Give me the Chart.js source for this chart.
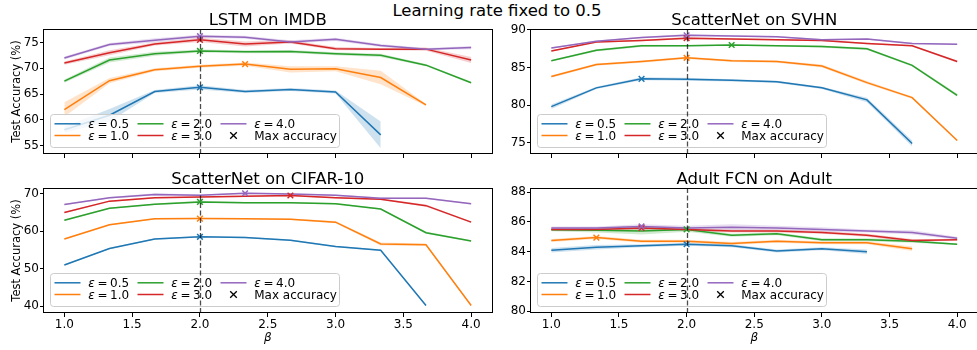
<!DOCTYPE html>
<html>
<head>
<meta charset="utf-8">
<script src="https://cdn.jsdelivr.net/npm/chart.js@4.4.1/dist/chart.umd.min.js"></script>
<style>
  html, body { margin: 0; padding: 0; background: #fff; }
  body { width: 977px; height: 350px; overflow: hidden; position: relative; font-family: "DejaVu Sans", sans-serif; }
  canvas { position: absolute; }
  #suptitle { position: absolute; left: 0; top: 2.7px; width: 994px; text-align: center; font-size: 16.5px; line-height: 1; color: #000; }
</style>
</head>
<body>
<div id="suptitle">Learning rate fixed to 0.5</div>
<canvas id="chart-imdb"></canvas>
<canvas id="chart-svhn"></canvas>
<canvas id="chart-cifar"></canvas>
<canvas id="chart-adult"></canvas>
<script>
const betas = [1.0, 1.333, 1.667, 2.0, 2.333, 2.667, 3.0, 3.333, 3.667, 4.0];
const betaTicks = [1.0, 1.5, 2.0, 2.5, 3.0, 3.5, 4.0];
const betaRef = 2.0;
const epsilons = ["0.5", "1.0", "2.0", "3.0", "4.0"];
const colors = ["#1f77b4", "#ff7f0e", "#2ca02c", "#d62728", "#9467bd"];

// LSTM on IMDB, mean accuracy per epsilon (rows) and beta (columns)
const imdbAcc = [
  [58.1, 60.9, 65.5, 66.3, 65.5, 65.9, 65.4, 57.1, null, null],
  [62.0, 67.6, 69.7, 70.4, 70.8, 69.8, 69.9, 68.2, 62.9, null],
  [67.5, 71.6, 72.8, 73.35, 73.2, 73.25, 72.8, 72.5, 70.6, 67.2],
  [71.0, 73.0, 74.7, 75.5, 74.7, 75.1, 73.8, 73.7, 73.7, 71.6],
  [72.0, 74.6, 75.4, 76.2, 76.0, 75.1, 75.6, 74.4, 73.7, 74.0]
];
const imdbStd = [
  [0.6, 1.2, 0.3, 0.4, 0.3, 0.3, 0.3, 2.6, null, null],
  [1.4, 0.5, 0.3, 0.3, 0.3, 0.6, 0.5, 1.3, 0.2, null],
  [0.3, 0.5, 0.4, 0.3, 0.3, 0.3, 0.3, 0.3, 0.2, 0.2],
  [0.3, 0.5, 0.3, 0.4, 0.5, 0.3, 0.3, 0.2, 0.3, 0.6],
  [0.3, 0.3, 0.4, 0.3, 0.3, 0.3, 0.3, 0.3, 0.2, 0.3]
];
const imdbTicks = [55, 60, 65, 70, 75];

// ScatterNet on SVHN
const svhnAcc = [
  [79.8, 82.3, 83.5, 83.45, 83.3, 83.1, 82.3, 80.7, 74.9, null],
  [83.8, 85.4, 85.8, 86.3, 85.9, 85.8, 85.2, 83.0, 81.0, 75.3],
  [85.9, 87.3, 87.9, 87.9, 88.0, 87.9, 87.8, 87.5, 85.3, 81.3],
  [87.2, 88.4, 88.6, 88.9, 88.8, 88.7, 88.6, 88.2, 87.9, 85.8],
  [87.6, 88.5, 89.0, 89.3, 89.2, 89.1, 88.7, 88.8, 88.2, 88.1]
];
const svhnStd = [
  [0.3, 0.15, 0.2, 0.2, 0.15, 0.15, 0.15, 0.3, 0.4, null],
  [0.15, 0.15, 0.15, 0.15, 0.15, 0.15, 0.2, 0.2, 0.15, 0.1],
  [0.1, 0.15, 0.15, 0.1, 0.1, 0.1, 0.15, 0.15, 0.15, 0.2],
  [0.1, 0.1, 0.1, 0.15, 0.1, 0.1, 0.1, 0.1, 0.1, 0.15],
  [0.1, 0.1, 0.1, 0.15, 0.1, 0.1, 0.1, 0.1, 0.1, 0.1]
];
const svhnTicks = [75, 80, 85, 90];

// ScatterNet on CIFAR-10
const cifarAcc = [
  [51.0, 55.4, 57.9, 58.5, 58.3, 57.6, 55.9, 54.9, 40.2, null],
  [57.9, 61.7, 63.3, 63.35, 63.3, 63.2, 62.4, 56.6, 56.4, 40.2],
  [62.9, 66.1, 67.2, 67.8, 67.6, 67.6, 67.3, 65.9, 59.6, 57.4],
  [65.0, 68.0, 68.9, 69.1, 69.3, 69.5, 68.9, 68.5, 66.8, 62.4],
  [67.1, 68.9, 69.8, 69.6, 70.1, 69.9, 69.6, 68.8, 68.8, 67.3]
];
const cifarStd = [
  [0.2, 0.2, 0.2, 0.2, 0.2, 0.2, 0.2, 0.2, 0.2, null],
  [0.2, 0.2, 0.2, 0.2, 0.2, 0.2, 0.3, 0.4, 0.3, 0.2],
  [0.2, 0.2, 0.2, 0.3, 0.2, 0.2, 0.2, 0.2, 0.3, 0.2],
  [0.2, 0.2, 0.2, 0.2, 0.2, 0.2, 0.2, 0.2, 0.3, 0.2],
  [0.2, 0.2, 0.3, 0.2, 0.2, 0.2, 0.2, 0.2, 0.2, 0.2]
];
const cifarTicks = [40, 50, 60, 70];

// Adult FCN on Adult
const adultAcc = [
  [84.1, 84.3, 84.4, 84.5, 84.4, 84.05, 84.2, 84.0, null, null],
  [84.75, 84.95, 84.7, 84.7, 84.55, 84.7, 84.6, 84.6, 84.2, null],
  [85.47, 85.45, 85.4, 85.5, 85.1, 85.2, 84.8, 84.8, 84.7, 84.5],
  [85.5, 85.5, 85.6, 85.5, 85.4, 85.4, 85.3, 85.1, 84.75, 84.8],
  [85.6, 85.6, 85.7, 85.6, 85.65, 85.6, 85.5, 85.4, 85.3, 84.9]
];
const adultStd = [
  [0.15, 0.15, 0.1, 0.1, 0.1, 0.1, 0.1, 0.15, null, null],
  [0.1, 0.1, 0.1, 0.1, 0.1, 0.1, 0.1, 0.1, 0.15, null],
  [0.1, 0.15, 0.25, 0.15, 0.1, 0.1, 0.1, 0.1, 0.1, 0.05],
  [0.1, 0.1, 0.15, 0.1, 0.1, 0.1, 0.1, 0.1, 0.1, 0.05],
  [0.1, 0.1, 0.15, 0.15, 0.2, 0.15, 0.15, 0.1, 0.15, 0.1]
];
const adultTicks = [80, 82, 84, 86, 88];

const FONT = '"DejaVu Sans", sans-serif';
Chart.defaults.font.family = FONT;
Chart.defaults.color = "#000";

function seriesPoints(values) {
  return betas.map((b, i) => ({ x: b, y: values[i] })).filter(p => p.y !== null);
}

function bandPoints(values, spread, sign) {
  return betas
    .map((b, i) => ({ x: b, y: values[i] === null ? null : values[i] + sign * spread[i] }))
    .filter(p => p.y !== null);
}

function maxPoint(values) {
  let best = 0;
  values.forEach((v, i) => { if (v !== null && v > values[best]) best = i; });
  return [{ x: betas[best], y: values[best] }];
}

function buildDatasets(acc, spread) {
  const sets = [];
  // shaded spread: upper edge fills down to the lower edge right after it
  acc.forEach((values, k) => {
    sets.push({ data: bandPoints(values, spread[k], 1), borderWidth: 0, pointRadius: 0,
      fill: "+1", backgroundColor: colors[k] + "38", order: 100 - 2 * k });
    sets.push({ data: bandPoints(values, spread[k], -1), borderWidth: 0, pointRadius: 0,
      fill: false, order: 99 - 2 * k });
  });
  acc.forEach((values, k) => {
    sets.push({ data: seriesPoints(values), borderColor: colors[k], borderWidth: 1.5,
      pointRadius: 0, fill: false, tension: 0, order: 50 - k });
  });
  acc.forEach((values, k) => {
    sets.push({ data: maxPoint(values), showLine: false, pointStyle: "crossRot", pointRadius: 4,
      pointBorderWidth: 1.5, pointBorderColor: colors[k], pointBackgroundColor: colors[k], order: 10 - k });
  });
  return sets;
}

const framePlugin = {
  id: "frame",
  afterDraw(chart) {
    const { ctx, chartArea: a } = chart;
    ctx.save();
    ctx.strokeStyle = "#000";
    ctx.lineWidth = 1;
    ctx.strokeRect(Math.round(a.left) - 0.5, Math.round(a.top) + 0.5,
      Math.round(a.right - a.left) + 1, Math.round(a.bottom - a.top) - 1);
    ctx.restore();
  }
};

const panelTitle = {
  id: "panelTitle",
  afterDraw(chart, args, opts) {
    const { ctx, chartArea: a } = chart;
    ctx.save();
    ctx.font = `16.5px ${FONT}`;
    ctx.fillStyle = "#000";
    ctx.textAlign = "center";
    ctx.textBaseline = "alphabetic";
    ctx.fillText(opts.text, (a.left + a.right) / 2, a.top - 3.7);
    ctx.restore();
  }
};

const insetLegend = {
  id: "insetLegend",
  afterDraw(chart) {
    const { ctx, chartArea: a } = chart;
    const w = 289, h = 33;
    const x0 = Math.round(a.left) + 6.5, y0 = Math.round(a.bottom) - 6.5 - h;
    ctx.save();
    ctx.beginPath();
    ctx.roundRect(x0, y0, w, h, 3);
    ctx.fillStyle = "rgba(255,255,255,0.8)";
    ctx.fill();
    ctx.strokeStyle = "#cccccc";
    ctx.lineWidth = 1;
    ctx.stroke();

    const colX = [4, 87, 170];
    const rowY = [9.3, 21];
    const entries = epsilons.map((e, k) => ({ eps: e, color: colors[k] }));
    entries.push({ marker: true });
    entries.forEach((en, idx) => {
      const col = Math.floor(idx / 2), row = idx % 2;
      const lx = x0 + colX[col], ly = y0 + rowY[row];
      if (en.marker) {
        const cx = lx + 13, r = 3.3;
        ctx.strokeStyle = "#000";
        ctx.lineWidth = 1.3;
        ctx.beginPath();
        ctx.moveTo(cx - r, ly - r); ctx.lineTo(cx + r, ly + r);
        ctx.moveTo(cx - r, ly + r); ctx.lineTo(cx + r, ly - r);
        ctx.stroke();
      } else {
        ctx.strokeStyle = en.color;
        ctx.lineWidth = 1.5;
        ctx.beginPath();
        ctx.moveTo(lx, ly); ctx.lineTo(lx + 26, ly);
        ctx.stroke();
      }
      const tx = lx + 33.7, ty = ly + 4.3;
      ctx.fillStyle = "#000";
      ctx.textAlign = "left";
      ctx.textBaseline = "alphabetic";
      if (en.marker) {
        ctx.font = `12px ${FONT}`;
        ctx.fillText("Max accuracy", tx, ty);
      } else {
        ctx.font = `italic 12px ${FONT}`;
        ctx.fillText("ε", tx, ty);
        ctx.font = `12px ${FONT}`;
        ctx.fillText("=", tx + 9.2, ty);
        ctx.fillText(en.eps, tx + 21.8, ty);
      }
    });
    ctx.restore();
  }
};

const refLine = {
  id: "refLine",
  afterDraw(chart) {
    const { ctx, chartArea: a, scales: { x } } = chart;
    const px = Math.round(x.getPixelForValue(betaRef)) + 0.5;
    ctx.save();
    ctx.strokeStyle = "rgba(0,0,0,0.7)";
    ctx.lineWidth = 1.3;
    ctx.setLineDash([5, 2.5]);
    ctx.beginPath();
    ctx.moveTo(px, a.top);
    ctx.lineTo(px, a.bottom);
    ctx.stroke();
    ctx.restore();
  }
};

function makePanel(p) {
  const canvas = document.getElementById(p.id);
  canvas.width = p.w;
  canvas.height = p.h;
  canvas.style.left = p.left + "px";
  canvas.style.top = p.top + "px";
  canvas.style.width = p.w + "px";
  canvas.style.height = p.h + "px";
  return new Chart(canvas.getContext("2d"), {
    type: "line",
    data: { datasets: buildDatasets(p.acc, p.spread) },
    options: {
      responsive: false,
      animation: false,
      events: [],
      layout: { padding: { top: p.padTop, right: 0, bottom: 0, left: 0 } },
      plugins: {
        legend: { display: false },
        tooltip: { enabled: false },
        panelTitle: { text: p.title }
      },
      scales: {
        x: {
          type: "linear", min: 0.85, max: 4.15,
          afterBuildTicks: s => { s.ticks = betaTicks.map(v => ({ value: v })); },
          afterFit: s => { s.height = p.xAxisH; },
          ticks: {
            display: p.showX, autoSkip: false, maxRotation: 0, padding: 1,
            font: { size: 12 }, color: "#000",
            callback: v => Number(v).toFixed(1)
          },
          grid: { drawOnChartArea: false, drawTicks: true, tickLength: 4, color: "#000" },
          border: { display: false },
          title: {
            display: p.showX, text: "β", color: "#000",
            font: { size: 12, style: "italic" }, padding: { top: 0, bottom: 5 }
          }
        },
        y: {
          type: "linear", min: p.yMin, max: p.yMax,
          afterBuildTicks: s => { s.ticks = p.yTicks.map(v => ({ value: v })); },
          afterFit: s => { s.width = 44; },
          ticks: { font: { size: 12 }, color: "#000", padding: 1, callback: v => String(v) },
          grid: { drawOnChartArea: false, drawTicks: true, tickLength: 4, color: "#000" },
          border: { display: false },
          title: {
            display: p.showY, text: "Test Accuracy (%)", color: "#000",
            font: { size: 11.5 }, padding: { top: 9.8, bottom: 0 }
          }
        }
      }
    },
    plugins: [panelTitle, insetLegend, refLine, framePlugin]
  });
}

makePanel({ id: "chart-imdb", title: "LSTM on IMDB", acc: imdbAcc, spread: imdbStd,
  yMin: 53.4, yMax: 77.6, yTicks: imdbTicks, left: 0, top: 0, w: 497, h: 174,
  padTop: 29, xAxisH: 20, showX: false, showY: true });
makePanel({ id: "chart-svhn", title: "ScatterNet on SVHN", acc: svhnAcc, spread: svhnStd,
  yMin: 73.5, yMax: 90.13, yTicks: svhnTicks, left: 487, top: 0, w: 496, h: 174,
  padTop: 29, xAxisH: 20, showX: false, showY: false });
makePanel({ id: "chart-cifar", title: "ScatterNet on CIFAR-10", acc: cifarAcc, spread: cifarStd,
  yMin: 38.2, yMax: 71.5, yTicks: cifarTicks, left: 0, top: 160, w: 497, h: 190,
  padTop: 28, xAxisH: 37, showX: true, showY: true });
makePanel({ id: "chart-adult", title: "Adult FCN on Adult", acc: adultAcc, spread: adultStd,
  yMin: 79.87, yMax: 88.29, yTicks: adultTicks, left: 487, top: 160, w: 496, h: 190,
  padTop: 28, xAxisH: 37, showX: true, showY: false });
</script>
</body>
</html>
